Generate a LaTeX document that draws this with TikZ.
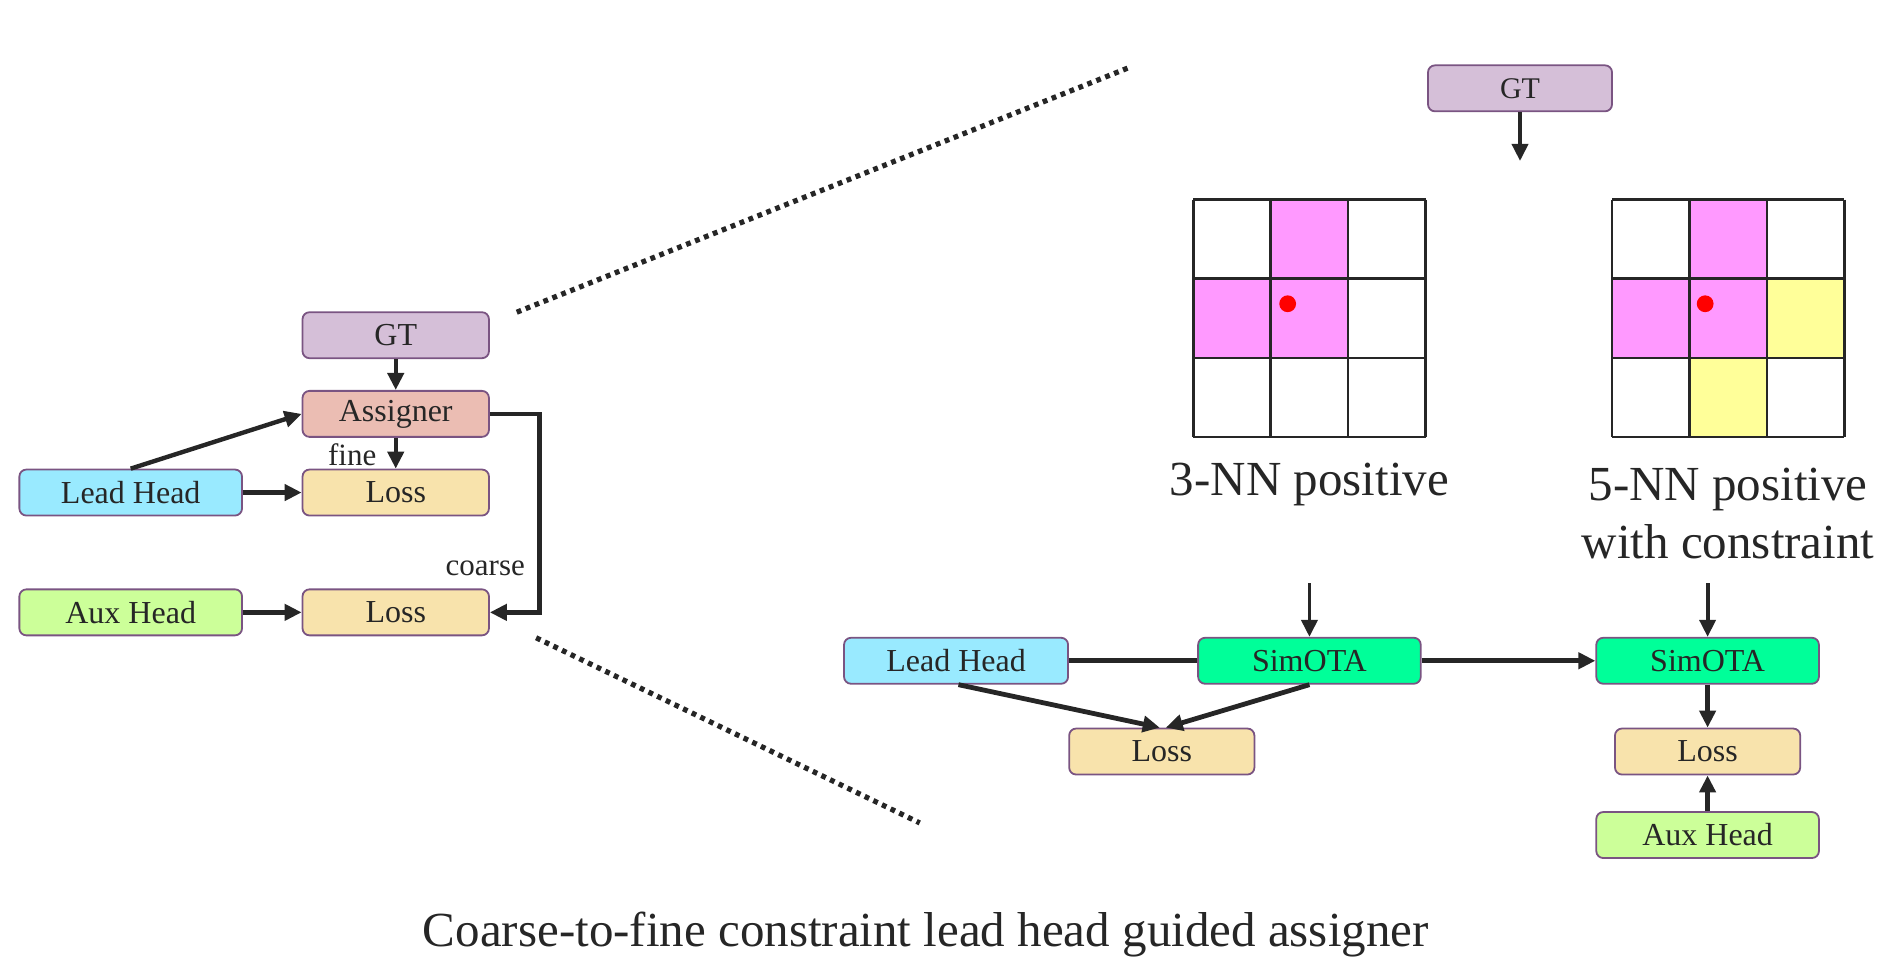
\documentclass[tikz,border=0pt]{standalone}
\usepackage{fontspec}
\setmainfont{LiberationSerif}[Extension=.ttf, UprightFont=*-Regular, BoldFont=*-Bold]
\usetikzlibrary{arrows.meta}
\definecolor{txt}{HTML}{262626}
\definecolor{boxedge}{HTML}{7A5482}
\definecolor{gtcol}{HTML}{D5BFD8}
\definecolor{asgcol}{HTML}{EBBDB3}
\definecolor{losscol}{HTML}{F8E3AC}
\definecolor{leadcol}{HTML}{99EAFF}
\definecolor{auxcol}{HTML}{CCFF99}
\definecolor{simcol}{HTML}{00FF99}
\definecolor{pinkcell}{HTML}{FF99FF}
\definecolor{yellowcell}{HTML}{FFFF99}

\begin{document}
\begin{tikzpicture}[x=0.605pt, y=-0.605pt,
    box/.style={draw=boxedge, line width=0.9pt, rounded corners=3.5pt, minimum height=23pt, inner sep=0pt, text=txt, font=\fontsize{16}{19}\selectfont},
    arr/.style={draw=txt, line width=2.2pt, -{Triangle[length=8.5pt,width=8pt]}},
    lbl/.style={text=txt, font=\fontsize{24.5}{29}\selectfont, align=center},
    small/.style={text=txt, font=\fontsize{15.5}{18}\selectfont, inner sep=0pt},
    zoomline/.style={draw=txt, line width=2.6pt, dash pattern=on 2.4pt off 2.4pt}]

    \useasboundingbox (0,0) rectangle (1570,802);

    \node[box, fill=gtcol, minimum width=93.2pt] (gtL) at (327,277) {GT};
    \node[box, fill=asgcol, minimum width=93.2pt] (asg) at (327,342) {Assigner};
    \node[box, fill=losscol, minimum width=93.2pt] (lossF) at (327,407) {Loss};
    \node[box, fill=leadcol, minimum width=111.3pt] (leadL) at (108,407) {Lead Head};
    \node[box, fill=auxcol, minimum width=111.3pt] (auxL) at (108,506) {Aux Head};
    \node[box, fill=losscol, minimum width=93.2pt] (lossC) at (327,506) {Loss};
    \node[small] (fine) at (291,376) {fine};
    \node[small] (coarse) at (401,470) {coarse};

    \draw[arr] (gtL) -- (asg);
    \draw[arr] (asg) -- (lossF);
    \draw[arr] (leadL) -- (lossF);
    \draw[arr] (auxL) -- (lossC);
    \draw[arr] (leadL.north) -- (asg.west);
    \draw[arr] (asg.east) -- ++(41,0) |- (lossC.east);

    \coordinate (zA) at (427,258);
    \coordinate (zB) at (935,55);
    \coordinate (zC) at (443,527);
    \coordinate (zD) at (760,680);
    \draw[zoomline] (zA) -- (zB);
    \draw[zoomline] (zC) -- (zD);

    \node[box, fill=gtcol, minimum width=92pt, font=\fontsize{15}{18}\selectfont] (gtR) at (1256,73) {GT};
    \coordinate (gtEnd) at (1256,133);
    \draw[arr, line width=1.9pt] (gtR) -- (gtEnd);

    \fill[pinkcell] (1050,165) rectangle (1114,230.3);
    \fill[pinkcell] (986,230.3) rectangle (1114,295.7);
    \fill[pinkcell] (1396,165) rectangle (1460,230.3);
    \fill[pinkcell] (1332,230.3) rectangle (1460,295.7);
    \fill[yellowcell] (1460,230.3) rectangle (1524,295.7);
    \fill[yellowcell] (1396,295.7) rectangle (1460,361);
    \foreach \gx in {986,1332} {
        \foreach \k in {0,...,3} {
            \draw[txt, line width=1.3pt] ({\gx+64*\k},165) -- ({\gx+64*\k},361);
            \draw[txt, line width=1.3pt] (\gx,{165+65.33*\k}) -- ({\gx+192},{165+65.33*\k});
        }
    }
    \fill[red] (1064,251) circle[radius=4.2pt];
    \fill[red] (1409,251) circle[radius=4.2pt];

    \node[lbl] (nnA) at (1082,400) {3-NN positive};
    \node[lbl] (nnB) at (1428,424) {5-NN positive\\with constraint};

    \node[box, fill=leadcol, minimum width=112pt] (leadR) at (790,546) {Lead Head};
    \node[box, fill=simcol, minimum width=111.3pt] (simA) at (1082,546) {SimOTA};
    \node[box, fill=simcol, minimum width=111.3pt] (simB) at (1411,546) {SimOTA};
    \node[box, fill=losscol, minimum width=92.6pt] (lossA) at (960,621) {Loss};
    \node[box, fill=losscol, minimum width=92.6pt] (lossB) at (1411,621) {Loss};
    \node[box, fill=auxcol, minimum width=111.3pt] (auxR) at (1411,690) {Aux Head};

    \coordinate (inA) at (1082,482);
    \coordinate (inB) at (1411,482);
    \draw[arr, line width=1.9pt] (inA) -- (simA);
    \draw[arr, line width=1.9pt] (inB) -- (simB);
    \draw[txt, line width=2.4pt] (leadR) -- (simA);
    \draw[arr, line width=2.4pt] (simA) -- (simB);
    \draw[arr, line width=2.4pt] ([xshift=1.2pt]leadR.south) -- ([xshift=-1pt]lossA.north);
    \draw[arr, line width=2.4pt] (simA.south) -- ([xshift=2pt]lossA.north);
    \draw[arr] (simB) -- (lossB);
    \draw[arr] (auxR) -- (lossB);

    \node[lbl] (caption) at (765,772) {Coarse-to-fine constraint lead head guided assigner};
\end{tikzpicture}
\end{document}
